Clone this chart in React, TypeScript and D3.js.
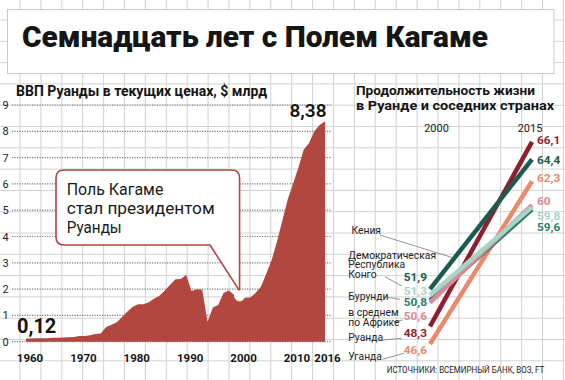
import React from 'react';
import * as d3 from 'd3';

// ---------- DATA ----------
const gdpStartYear = 1960;
// Rwanda GDP, current prices, $ bn, 1960..2016
const gdpValues = [
  0.12, 0.12, 0.13, 0.13, 0.13, 0.15, 0.15, 0.16, 0.17, 0.18,
  0.22, 0.22, 0.25, 0.29, 0.31, 0.56, 0.64, 0.74, 0.94, 1.15,
  1.33, 1.42, 1.42, 1.5, 1.64, 1.75, 1.95, 2.17, 2.37, 2.38,
  2.55, 1.93, 1.99, 1.98, 0.76, 1.3, 1.4, 1.85, 1.95, 1.78,
  1.74, 1.67, 1.68, 1.85, 2.09, 2.58, 3.1, 3.8, 4.6, 5.4,
  6.0, 6.6, 7.3, 7.55, 8.0, 8.24, 8.38,
];
const gdpYTicks = [0, 1, 2, 3, 4, 5, 6, 7, 8, 9];
const gdpXTicks = [1960, 1970, 1980, 1990, 2000, 2010, 2016];
const kagameYear = 2000;

const leYears = [2000, 2015];
const leCountries = ['Кения', 'ДР Конго', 'Бурунди', 'Африка', 'Руанда', 'Уганда'];
const le2000 = [51.9, 51.3, 50.8, 50.6, 48.3, 46.6];
const le2015 = [64.4, 59.8, 59.6, 60, 66.1, 62.3];
const leColors = ['#1d5a4f', '#a6d5c9', '#2b7d6c', '#d9899a', '#8f1f2e', '#ea8a6c'];
const leDrawOrder = [5, 4, 0, 2, 3, 1];

// label layout (annotation positions)
const leStartLabelY = [281, 294.5, 306, 320, 337, 354];
const leEndLabelY = [163.5, 220, 231, 205, 143.5, 182];

const nameLabels = [
  { lines: ['Кения'], x: 351.5, y: 234.3, ptr: [380, 235, 452, 257.5] },
  { lines: ['Демократическая', 'Республика', 'Конго'], x: 348.3, y: 258.5, ptr: [385, 276.7, 401.7, 286] },
  { lines: ['Бурунди'], x: 348.3, y: 300, ptr: [387.3, 297.3, 400, 299.3] },
  { lines: ['в среднем', 'по Африке'], x: 348.3, y: 316, ptr: [394, 321.7, 402.7, 320] },
  { lines: ['Руанда'], x: 348.3, y: 340.7, ptr: [382.7, 340, 401.7, 338.3] },
  { lines: ['Уганда'], x: 348.3, y: 360, ptr: [382.7, 359.3, 404, 353.3] },
];

const FONT = "Roboto, 'Open Sans', 'DejaVu Sans', sans-serif";
const RED = '#b1473f';
const fmt = (v: number) => String(v).replace('.', ',');

export default function App() {
  const W = 565, H = 380;

  // grid
  const gridX = d3.range(0, 27).map((k) => 20 + 20.9 * k);
  const gridY = d3.range(-1, 17).map((k) => 20 + 21.3 * k);

  // GDP chart scales
  const gdpData = gdpValues.map((v, i) => ({ year: gdpStartYear + i, v }));
  const x = d3.scaleLinear().domain([1960, 2016]).range([26, 325]);
  const y = d3.scaleLinear().domain([0, 9]).range([341.7, 105]);
  const area = d3
    .area<{ year: number; v: number }>()
    .x((d) => x(d.year))
    .y0(y(0))
    .y1((d) => y(d.v))
    .curve(d3.curveLinear)(gdpData) as string;

  const kagameV = gdpData.find((d) => d.year === kagameYear)!.v;
  const cx = x(kagameYear);
  const cy = y(kagameV);

  // callout bubble
  const bx0 = 56, by0 = 170, by1 = 245, r = 8;
  const bx1 = cx;
  const tailX = 210;
  const bubble = [
    `M${bx0 + r},${by0}`,
    `H${bx1 - r}`,
    `Q${bx1},${by0} ${bx1},${by0 + r}`,
    `V${cy - 5}`,
    `L${tailX},${by1}`,
    `H${bx0 + r}`,
    `Q${bx0},${by1} ${bx0},${by1 - r}`,
    `V${by0 + r}`,
    `Q${bx0},${by0} ${bx0 + r},${by0}`,
    'Z',
  ].join(' ');

  // life expectancy scales
  const lx = d3.scalePoint<number>().domain(leYears).range([430, 532]);
  const ly = d3.scaleLinear().domain([46.6, 66.1]).range([344, 141.8]);

  return (
    <svg
      width={W}
      height={H}
      viewBox={`0 0 ${W} ${H}`}
      style={{ position: 'absolute', left: 0, top: 0, background: '#fff' }}
      fontFamily={FONT}
    >
      <rect x={0} y={0} width={W} height={H} fill="#fff" />
      {/* grid paper */}
      <g stroke="#d2d2d2" strokeWidth={1}>
        {gridX.map((gx) => (
          <line key={'gx' + gx} x1={gx} x2={gx} y1={0} y2={H} />
        ))}
        {gridY.map((gy) => (
          <line key={'gy' + gy} x1={0} x2={W} y1={gy} y2={gy} />
        ))}
      </g>

      {/* title box */}
      <rect x={7.5} y={9.5} width={546.5} height={64} fill="#fff" stroke="#c9c9c9" strokeWidth={1} />
      <text
        x={22}
        y={46.7}
        fontSize={30}
        fontWeight={900}
        fill="#151515"
        textLength={466}
        lengthAdjust="spacingAndGlyphs"
      >
        Семнадцать лет с Полем Кагаме
      </text>

      {/* GDP chart title */}
      <text x={16} y={96} fontSize={14.5} fontWeight={700} fill="#151515" textLength={251} lengthAdjust="spacingAndGlyphs">
        ВВП Руанды в текущих ценах, $ млрд
      </text>

      {/* y gridlines & labels */}
      <g>
        {gdpYTicks.map((t) => (
          <g key={'yt' + t}>
            <line
              x1={12}
              x2={332}
              y1={y(t)}
              y2={y(t)}
              stroke="#7a7a7a"
              strokeWidth={1.2}
              strokeDasharray="1.2,1.3"
            />
            <text x={2.5} y={y(t) + 4} fontSize={11} fill="#222">
              {t}
            </text>
          </g>
        ))}
      </g>

      {/* area */}
      <path d={area} fill={RED} />

      {/* x labels */}
      {gdpXTicks.map((t) => (
        <text
          key={'xt' + t}
          x={x(t) + (t === 2016 ? 2.5 : 4)}
          y={361.5}
          fontSize={11.5}
          fontWeight={700}
          fill="#151515"
          textAnchor="middle"
        >
          {t}
        </text>
      ))}

      {/* first / last value labels */}
      <text x={17} y={332.7} fontSize={20} fontWeight={700} fill="#151515">
        {fmt(gdpValues[0])}
      </text>
      <text x={326.5} y={116.7} fontSize={19} fontWeight={600} fill="#151515" textAnchor="end">
        {fmt(gdpValues[gdpValues.length - 1])}
      </text>

      {/* callout */}
      <path d={bubble} fill="#fff" stroke={RED} strokeWidth={1.6} strokeLinejoin="round" />
      <g fontSize={17} fill="#1a1a1a">
        <text x={66.7} y={195} textLength={96.7} lengthAdjust="spacingAndGlyphs">Поль Кагаме</text>
        <text x={66.7} y={214} textLength={148} lengthAdjust="spacingAndGlyphs">стал президентом</text>
        <text x={66.7} y={233} textLength={55} lengthAdjust="spacingAndGlyphs">Руанды</text>
      </g>
      <circle cx={cx} cy={cy} r={5} fill="#fff" stroke="#fff" strokeWidth={1} />

      {/* life expectancy title */}
      <g fontSize={13} fontWeight={700} fill="#151515">
        <text x={356} y={95} textLength={179} lengthAdjust="spacingAndGlyphs">Продолжительность жизни</text>
        <text x={356} y={110} textLength={198} lengthAdjust="spacingAndGlyphs">в Руанде и соседних странах</text>
      </g>
      {leYears.map((yr) => (
        <text key={'ly' + yr} x={lx(yr)! + (yr === 2000 ? 6.5 : -2)} y={131.7} fontSize={11} fill="#222" textAnchor="middle">
          {yr}
        </text>
      ))}

      {/* slope lines */}
      {leDrawOrder.map((i) => (
        <line
          key={'sl' + i}
          x1={lx(leYears[0])}
          x2={lx(leYears[1])}
          y1={ly(le2000[i])}
          y2={ly(le2015[i])}
          stroke={leColors[i]}
          strokeWidth={4.5}
        />
      ))}

      {/* value labels */}
      <g fontSize={11.8} fontWeight={700}>
        {leCountries.map((c, i) => (
          <text key={'sv' + c} x={427} y={leStartLabelY[i]} fill={leColors[i]} textAnchor="end">
            {fmt(le2000[i])}
          </text>
        ))}
        {leCountries.map((c, i) => (
          <text key={'ev' + c} x={537} y={leEndLabelY[i]} fill={leColors[i]}>
            {fmt(le2015[i])}
          </text>
        ))}
      </g>

      {/* name labels */}
      <g fontSize={10.3} fill="#222">
        {nameLabels.map((n, i) => (
          <g key={'nl' + i}>
            <line x1={n.ptr[0]} y1={n.ptr[1]} x2={n.ptr[2]} y2={n.ptr[3]} stroke="#777" strokeWidth={0.8} />
            <text x={n.x} y={n.y}>
              {n.lines.map((ln, j) => (
                <tspan key={j} x={n.x} y={n.y + j * 9.8}>
                  {ln}
                </tspan>
              ))}
            </text>
          </g>
        ))}
      </g>

      {/* source */}
      <g transform="translate(386.7,373) scale(0.84,1)">
        <text x={0} y={0} fontSize={9.5} fill="#222">
          ИСТОЧНИКИ: ВСЕМИРНЫЙ БАНК, ВОЗ, FT
        </text>
      </g>
    </svg>
  );
}
